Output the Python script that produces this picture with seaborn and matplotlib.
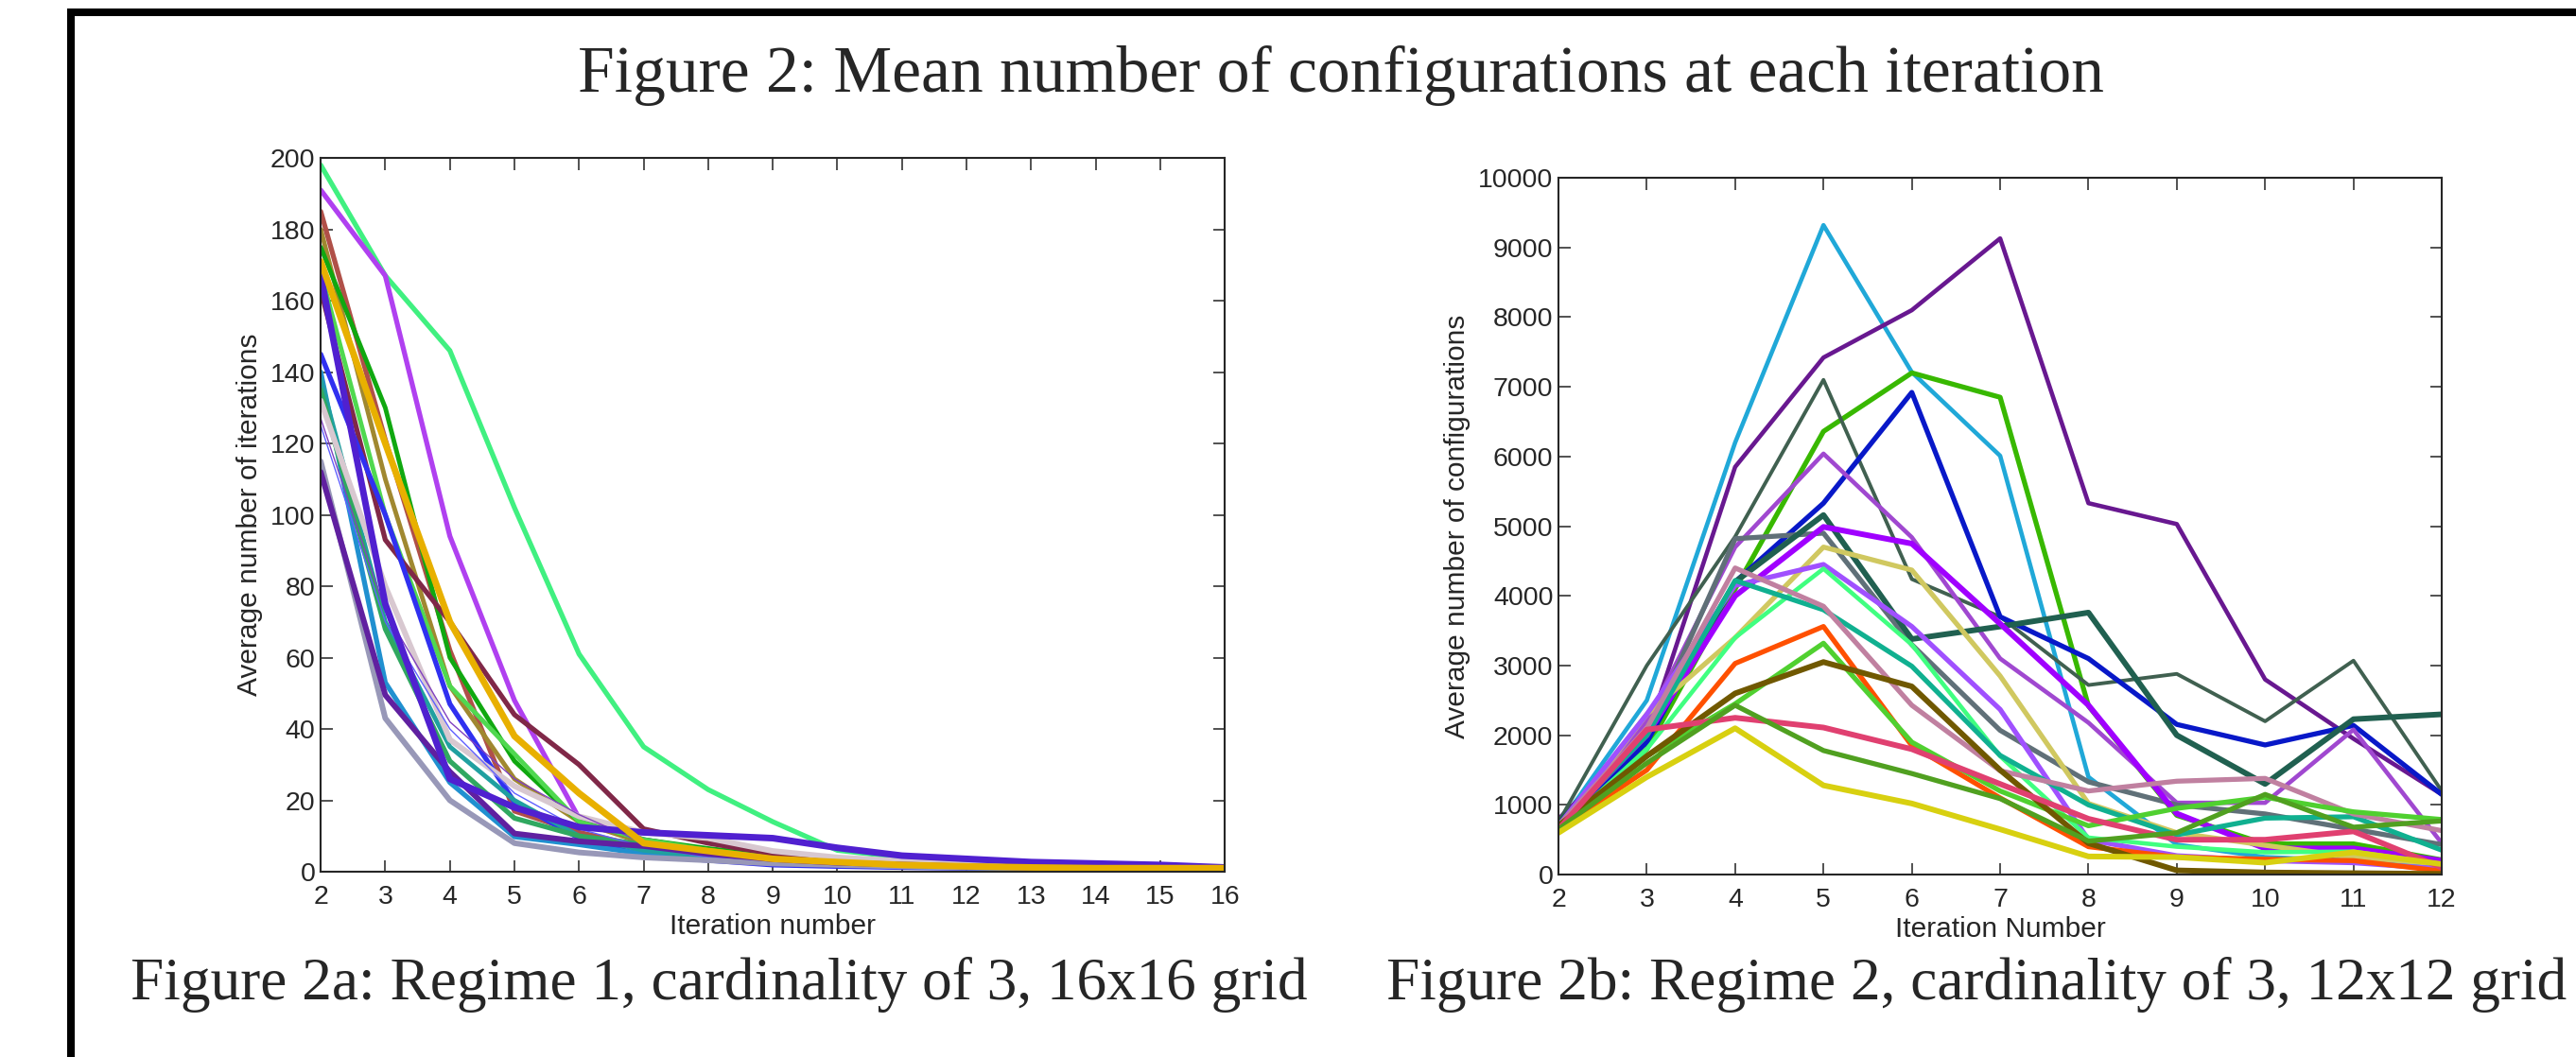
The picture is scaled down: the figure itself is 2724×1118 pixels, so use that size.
import numpy as np
import pandas as pd
import matplotlib
matplotlib.use("Agg")
import matplotlib.pyplot as plt
import seaborn as sns
from matplotlib.lines import Line2D

# ---- data: Figure 2a (regime 1, 16x16 grid) ----
iters_a = list(range(2, 17))
series_a = {
    "a01": [198, 167, 146, 102, 61, 35, 23, 14, 6, 4, 3, 2, 1.5, 1.2, 1],
    "a02": [191, 167, 94, 48, 15, 9, 6, 4, 3, 2, 1.5, 1.2, 1, 1, 1],
    "a03": [185, 121, 62, 17, 11, 7, 5, 3.5, 2.5, 2, 1.5, 1.2, 1, 1, 1],
    "a04": [180, 110, 52, 26, 14, 8, 5, 3.5, 2.5, 2, 1.5, 1.2, 1, 1, 1],
    "a05": [175, 130, 60, 31, 14, 9, 6.5, 4.5, 3, 2, 1.5, 1.2, 1, 1, 1],
    "a06": [168, 100, 52, 33, 14, 9, 6, 4, 3, 2, 1.5, 1.2, 1, 1, 1],
    "a07": [163, 93, 70, 44, 30, 12, 8, 5, 3.5, 2.5, 2, 1.5, 1.2, 1, 1],
    "a08": [145, 100, 47, 19.5, 9.4, 4.5, 3.2, 1.9, 1.5, 1.2, 1, 1, 1, 1, 1],
    "a09": [140, 53, 25, 9.8, 7.6, 5, 3.5, 2.5, 2, 1.5, 1.2, 1, 1, 1, 1],
    "a10": [138, 70, 35, 20, 10, 6, 4, 3, 2, 1.5, 1.2, 1, 1, 1, 1],
    "a11": [135, 68, 31, 15, 10, 7.6, 5, 3.5, 2.5, 2, 1.5, 1.2, 1, 1, 1],
    "a12": [132, 80, 37, 24, 15.5, 11, 9.4, 5.8, 4, 3, 2, 1.5, 1.2, 1, 1],
    "a13": [127, 73, 42, 26, 16, 8, 5, 3.5, 2.5, 2, 1.5, 1.2, 1, 1, 1],
    "a14": [125, 70, 40, 22, 12, 7, 4, 3, 2, 1.5, 1.2, 1, 1, 1, 1],
    "a15": [115, 43, 20, 8, 5.4, 4, 3.2, 2.3, 1.9, 1.5, 1.2, 1, 1, 1, 1],
    "a16": [112, 49.5, 28, 10.7, 8.5, 7.2, 5, 3.5, 2.5, 2, 1.5, 1.2, 1, 1, 1],
    "a17": [167, 75, 26, 18, 12.5, 11, 10.2, 9.4, 6.7, 4.5, 3.6, 2.7, 2.3, 1.9, 1.2],
    "a18": [171, 120, 70, 38, 22, 8, 5.8, 3.6, 2.7, 1.9, 1.5, 1.2, 1, 1, 1],
}
colors_a = {
    "a01": "#40f080", "a02": "#b040f0", "a03": "#b05048", "a04": "#a08830",
    "a05": "#10a810", "a06": "#50d850", "a07": "#802848", "a08": "#3030f0",
    "a09": "#2090d0", "a10": "#20a0a0", "a11": "#30a860", "a12": "#d8c8d0",
    "a13": "#8040c0", "a14": "#6060ff", "a15": "#9898b8", "a16": "#6020a0",
    "a17": "#5020d0", "a18": "#e8b000",
}
widths_a = {
    "a01": 3.8, "a02": 3.8, "a03": 3.8, "a04": 3.5, "a05": 3.5, "a06": 3.5,
    "a07": 3.8, "a08": 3.8, "a09": 3.8, "a10": 3.5, "a11": 3.8, "a12": 4.3,
    "a13": 1, "a14": 1, "a15": 4.3, "a16": 4.3, "a17": 5, "a18": 5,
}

# ---- data: Figure 2b (regime 2, 12x12 grid) ----
iters_b = list(range(2, 13))
series_b = {
    "b01": [700, 2500, 6200, 9320, 7210, 6010, 1400, 430, 250, 200, 100],
    "b02": [800, 2000, 5850, 7420, 8100, 9130, 5330, 5030, 2800, 1950, 1150],
    "b03": [700, 1800, 4100, 6360, 7200, 6850, 2420, 850, 440, 440, 210],
    "b04": [750, 3000, 4850, 7100, 4240, 3700, 2720, 2880, 2200, 3070, 1200],
    "b05": [700, 1900, 4200, 5330, 6920, 3700, 3100, 2155, 1860, 2140, 1150],
    "b06": [700, 2200, 4700, 6040, 4840, 3100, 2180, 1030, 1030, 2080, 450],
    "b07": [750, 2000, 4820, 4900, 3300, 2070, 1330, 1000, 870, 650, 430],
    "b08": [750, 2000, 4200, 5160, 3380, 3560, 3760, 2000, 1300, 2230, 2300],
    "b09": [700, 2000, 4000, 4990, 4750, 3600, 2430, 875, 375, 375, 200],
    "b10": [650, 2300, 3400, 4700, 4370, 2850, 1020, 600, 420, 250, 150],
    "b11": [700, 2300, 4150, 4450, 3560, 2370, 500, 270, 200, 170, 80],
    "b12": [650, 1800, 3400, 4390, 3300, 1700, 530, 400, 320, 330, 150],
    "b13": [700, 2000, 4220, 3800, 2990, 1710, 1000, 570, 810, 830, 350],
    "b14": [700, 2100, 4400, 3850, 2430, 1490, 1200, 1340, 1380, 870, 630],
    "b15": [650, 1500, 3030, 3560, 1850, 1100, 400, 250, 220, 200, 50],
    "b16": [650, 1700, 2450, 3320, 1900, 1200, 700, 950, 1110, 900, 790],
    "b17": [700, 1700, 2600, 3050, 2700, 1500, 450, 60, 30, 20, 10],
    "b18": [650, 2080, 2250, 2110, 1800, 1300, 800, 500, 500, 620, 100],
    "b19": [650, 1600, 2430, 1780, 1450, 1090, 480, 600, 1150, 680, 770],
    "b20": [600, 1400, 2100, 1280, 1020, 650, 260, 250, 170, 320, 150],
}
colors_b = {
    "b01": "#20a8d8", "b02": "#681890", "b03": "#38b800", "b04": "#406050",
    "b05": "#0818c8", "b06": "#a048d0", "b07": "#607078", "b08": "#206050",
    "b09": "#a000ff", "b10": "#d0c860", "b11": "#a050ff", "b12": "#40ff80",
    "b13": "#10b090", "b14": "#c080a0", "b15": "#ff5000", "b16": "#50d030",
    "b17": "#705800", "b18": "#e04070", "b19": "#50a020", "b20": "#d8d010",
}
widths_b = {
    "b01": 3.3, "b02": 3.3, "b03": 3.8, "b04": 2.8, "b05": 3.8, "b06": 3.3,
    "b07": 3.8, "b08": 4.3, "b09": 4.3, "b10": 3.8, "b11": 3.8, "b12": 3.3,
    "b13": 3.8, "b14": 3.8, "b15": 3.8, "b16": 3.8, "b17": 4.3, "b18": 4.3,
    "b19": 3.8, "b20": 4.3,
}

title = "Figure 2: Mean number of configurations at each iteration"
caption_a = "Figure 2a: Regime 1, cardinality of 3, 16x16 grid"
caption_b = "Figure 2b: Regime 2, cardinality of 3, 12x12 grid"


def long_form(iters, series):
    rows = []
    for name, vals in series.items():
        for it, v in zip(iters, vals):
            rows.append({"run": name, "iteration": it, "value": v})
    return pd.DataFrame(rows)


sns.set_style("white", {
    "xtick.direction": "in", "ytick.direction": "in",
    "xtick.top": True, "ytick.right": True,
    "xtick.bottom": True, "ytick.left": True,
    "axes.edgecolor": "#262626",
})
plt.rcParams["font.family"] = ["Liberation Sans", "DejaVu Sans"]

fig = plt.figure(figsize=(27.24, 11.18), dpi=100)
ax_a = fig.add_axes([0.1245, 0.1753, 0.3510, 0.6753])
ax_b = fig.add_axes([0.6050, 0.1726, 0.3429, 0.6592])

df_a = long_form(iters_a, series_a)
for name in series_a:
    sns.lineplot(data=df_a[df_a["run"] == name], x="iteration", y="value",
                 color=colors_a[name], linewidth=widths_a[name], ax=ax_a,
                 legend=False)

df_b = long_form(iters_b, series_b)
for name in series_b:
    sns.lineplot(data=df_b[df_b["run"] == name], x="iteration", y="value",
                 color=colors_b[name], linewidth=widths_b[name], ax=ax_b,
                 legend=False)

ax_a.set_xlim(2, 16)
ax_a.set_ylim(0, 200)
ax_a.set_xticks(iters_a)
ax_a.set_yticks(range(0, 201, 20))
ax_a.set_xlabel("Iteration number", fontsize=21.5, labelpad=3)
ax_a.set_ylabel("Average number of iterations", fontsize=21.5, labelpad=6)

ax_b.set_xlim(2, 12)
ax_b.set_ylim(0, 10000)
ax_b.set_xticks(iters_b)
ax_b.set_yticks(range(0, 10001, 1000))
ax_b.set_xlabel("Iteration Number", fontsize=21.5, labelpad=3)
ax_b.set_ylabel("Average number of configurations", fontsize=21.5, labelpad=6)

for ax in (ax_a, ax_b):
    ax.tick_params(axis="both", which="both", direction="in", length=9,
                   width=1.2, labelsize=20.5, top=True, right=True,
                   color="#333333")
    ax.tick_params(axis="x", pad=10)
    ax.tick_params(axis="y", pad=4)
    for sp in ax.spines.values():
        sp.set_linewidth(1.5)
        sp.set_color("#262626")

fig.text(0.5206, 0.928, title, ha="center", va="center",
         family="Liberation Serif", fontsize=50)
fig.text(760 / 2724, 0.068, caption_a, ha="center", va="center",
         family="Liberation Serif", fontsize=45.5)
fig.text(2090 / 2724, 0.068, caption_b, ha="center", va="center",
         family="Liberation Serif", fontsize=45.5)

# page frame: thick rule across the top and down the left side
fig.add_artist(Line2D([71 / 2724, 1.0], [1 - 13 / 1118, 1 - 13 / 1118],
                      transform=fig.transFigure, color="black", linewidth=5.8,
                      solid_capstyle="butt"))
fig.add_artist(Line2D([75 / 2724, 75 / 2724], [0.0, 1 - 9 / 1118],
                      transform=fig.transFigure, color="black", linewidth=5.8,
                      solid_capstyle="butt"))

fig.savefig("out.png", dpi=100, facecolor="white")
